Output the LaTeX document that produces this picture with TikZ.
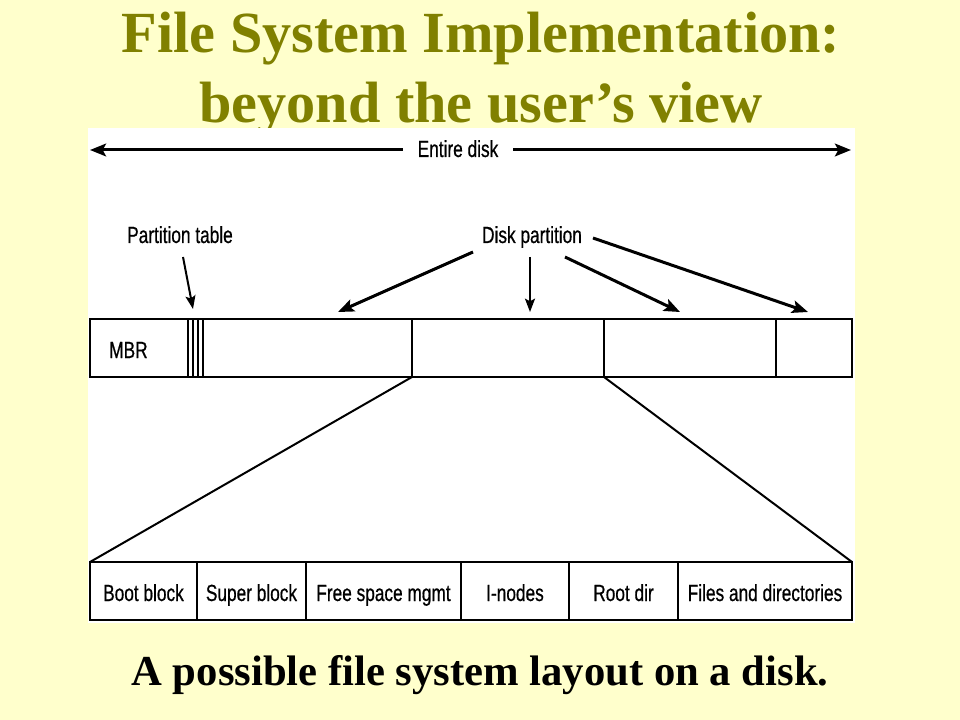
\documentclass[tikz,border=0pt]{standalone}
\usepackage{fontspec}
\setmainfont{Liberation Serif}
\newfontfamily\dgfont[FakeStretch=0.74,FakeBold=0.6]{Liberation Sans}
\newcommand\dgtext{\dgfont\fontsize{17.5}{21}\selectfont}
\usetikzlibrary{arrows.meta}
\definecolor{bgyellow}{HTML}{FFFFCC}
\definecolor{titleolive}{HTML}{808000}
\begin{document}
\begin{tikzpicture}[x=0.75pt,y=-0.75pt,
  cell/.style={draw=black,line width=1.5pt,fill=white,inner sep=0pt,outer sep=0pt,
    minimum height=43.5pt,text height=15pt,text depth=0pt,font=\dgtext},
  lbl/.style={font=\dgtext,inner sep=0pt},
  titletext/.style={font=\fontsize{43.7}{52}\selectfont\bfseries,text=titleolive,inner sep=0pt},
  captiontext/.style={font=\fontsize{32}{38}\selectfont\bfseries,text=black,inner sep=0pt},
  thickarr/.style={line width=2.25pt,-{Stealth[length=12pt,width=9.5pt,inset=2.5pt]}},
  thinarr/.style={line width=1.5pt,-{Stealth[length=10pt,width=7.5pt,inset=2pt]}},
  fan/.style={line width=1.5pt}]
\fill[bgyellow] (0,0) rectangle (960,720);
\useasboundingbox (0,0) rectangle (960,720);
% title
\node[titletext,anchor=base] (t1) at (481,53) {File System Implementation:};
\node[titletext,anchor=base] (t2) at (481,123) {beyond the user’s view};
% white panel
\fill[white] (88,128) rectangle (855,623);
% entire disk
\node[lbl,anchor=base,inner xsep=11pt] (ed) at (458,157) {Entire disk};
\coordinate (edL) at (90,150);
\coordinate (edR) at (851,150);
\draw[thickarr] (ed.west |- edL) -- (edL);
\draw[thickarr] (ed.east |- edR) -- (edR);
% top row
\node[cell,minimum width=73.5pt] (mbr) at (139,348) {};
\node[cell,minimum width=3.75pt] (pt1) at (190.5,348) {};
\node[cell,minimum width=3.75pt] (pt2) at (195.5,348) {};
\node[cell,minimum width=3.75pt] (pt3) at (200.5,348) {};
\node[cell,minimum width=156.75pt] (p1) at (307.5,348) {};
\node[cell,minimum width=144pt] (p2) at (508,348) {};
\node[cell,minimum width=129pt] (p3) at (690,348) {};
\node[cell,minimum width=57pt] (p4) at (814,348) {};
\node[lbl,anchor=base west] (mbrl) at (109,358) {MBR};
% labels
\node[lbl,anchor=base] (ptl) at (180,243) {Partition table};
\node[lbl,anchor=base] (dpl) at (532,243) {Disk partition};
% arrows
\coordinate (ptA) at (183,257);
\coordinate (ptB) at (193,309);
\draw[thinarr] (ptA) -- (ptB);
\coordinate (d1a) at (473,252);
\coordinate (d1b) at (338,312);
\coordinate (d2a) at (530,257);
\coordinate (d2b) at (530,312);
\coordinate (d3a) at (565,257);
\coordinate (d3b) at (680,312);
\coordinate (d4a) at (593,238);
\coordinate (d4b) at (808,312);
\draw[thickarr] (d1a) -- (d1b);
\draw[thinarr] (d2a) -- (d2b);
\draw[thickarr] (d3a) -- (d3b);
\draw[thickarr] (d4a) -- (d4b);
% bottom row
\node[cell,minimum width=80.25pt] (boot) at (143.5,591) {Boot block};
\node[cell,minimum width=81.75pt] (super) at (251.5,591) {Super block};
\node[cell,minimum width=116.25pt] (free) at (383.5,591) {Free space mgmt};
\node[cell,minimum width=81pt] (inodes) at (515,591) {I-nodes};
\node[cell,minimum width=81.75pt] (root) at (623.5,591) {Root dir};
\node[cell,minimum width=130.5pt] (files) at (765,591) {Files and directories};
% fan lines
\draw[fan] (p1.south east) -- (boot.north west);
\draw[fan] (p3.south west) -- (files.north east);
% caption
\node[captiontext,anchor=base] (cap) at (480,685) {A possible file system layout on a disk.};
\end{tikzpicture}
\end{document}
